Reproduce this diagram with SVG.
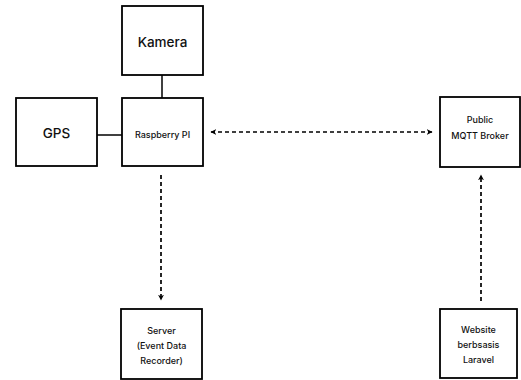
<svg xmlns="http://www.w3.org/2000/svg" width="521" height="380" viewBox="0 0 521 380">
<style>
.box{fill:#fff;stroke:#000;stroke-width:1.8}
.t{font-family:Inter,"Open Sans",sans-serif;fill:#111;text-anchor:middle;dominant-baseline:central}
.big{font-size:13.5px;font-weight:500}
.sm{font-size:9px;font-weight:500}
.solid{stroke:#000;stroke-width:1.5;fill:none}
.dash{stroke:#000;stroke-width:1.7;fill:none;stroke-dasharray:4 3}
</style>
<defs>
<marker id="ah" viewBox="0 0 10 10" refX="9" refY="5" markerWidth="6" markerHeight="6" orient="auto-start-reverse" markerUnits="userSpaceOnUse">
<path d="M0,0 L10,5 L0,10 L3,5 z" fill="#000"/>
</marker>
</defs>
<rect width="521" height="380" fill="#fff"/>
<g id="connectors">
<line class="solid" x1="162" y1="75" x2="162" y2="98"/>
<line class="solid" x1="97" y1="135" x2="122" y2="135"/>
<line class="dash" x1="211" y1="132" x2="432" y2="132" marker-start="url(#ah)" marker-end="url(#ah)"/>
<line class="dash" x1="161" y1="175" x2="161" y2="300" marker-end="url(#ah)"/>
<line class="dash" x1="481" y1="301" x2="481" y2="175" marker-end="url(#ah)"/>
</g>
<g id="kamera"><rect class="box" x="122" y="6" width="81" height="69"/><text class="t big" x="162.5" y="42">Kamera</text></g>
<g id="raspberry"><rect class="box" x="122" y="98" width="81" height="68"/><text class="t sm" x="162.5" y="134">Raspberry PI</text></g>
<g id="gps"><rect class="box" x="16" y="98" width="81" height="68"/><text class="t big" x="56.5" y="133">GPS</text></g>
<g id="mqtt"><rect class="box" x="440" y="97" width="80" height="70"/><text class="t sm" x="480" y="119">Public</text><text class="t sm" x="480" y="135">MQTT Broker</text></g>
<g id="server"><rect class="box" x="121" y="309" width="81" height="70"/><text class="t sm" x="161.5" y="330">Server</text><text class="t sm" x="161.5" y="345">(Event Data</text><text class="t sm" x="161.5" y="360">Recorder)</text></g>
<g id="website"><rect class="box" x="440" y="309" width="77" height="69"/><text class="t sm" x="478.5" y="329">Website</text><text class="t sm" x="478.5" y="344">berbsasis</text><text class="t sm" x="478.5" y="359">Laravel</text></g>
</svg>
